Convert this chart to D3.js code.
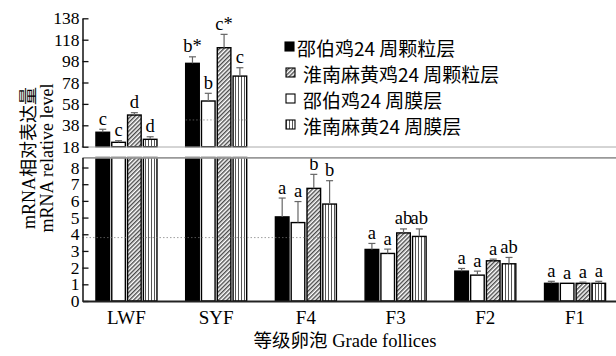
<!DOCTYPE html>
<html>
<head>
<meta charset="utf-8">
<script src="https://cdn.jsdelivr.net/npm/d3@7"></script>
<style>
  html, body { margin: 0; padding: 0; background: #fff; }
  svg { display: block; }
  .soft { opacity: 0.995; }
</style>
</head>
<body>
<svg id="chart" width="616" height="356"></svg>
<script>
// Follicle grades on the x axis
const categories = ["LWF", "SYF", "F4", "F3", "F2", "F1"];

// Series, in the order the bars sit inside each group
const seriesNames = ["邵伯鸡24 周颗粒层", "邵伯鸡24 周膜层", "淮南麻黄鸡24 周颗粒层", "淮南麻黄24 周膜层"];
const seriesFills = ["black", "white", "diag", "vert"];
// Legend lists the series in this order
const legendOrder = [0, 2, 1, 3];

// Relative mRNA level (mean) per grade
const shaoboGranulosa = [31.5, 95.9, 5.04, 3.09, 1.79, 1.06];
const shaoboTheca     = [22.1, 60.7, 4.70, 2.85, 1.55, 1.06];
const huainanGranulosa = [47.6, 110.5, 6.75, 4.08, 2.41, 1.06];
const huainanTheca    = [24.9, 84.0, 5.81, 3.87, 2.23, 1.06];

// Standard error per grade
const shaoboGranulosaErr = [2.8, 6.1, 1.13, 0.36, 0.16, 0.12];
const shaoboThecaErr     = [1.5, 7.2, 1.26, 0.26, 0.24, 0.0];
const huainanGranulosaErr = [2.2, 12.5, 0.84, 0.24, 0.10, 0.07];
const huainanThecaErr    = [2.4, 7.8, 1.40, 0.45, 0.38, 0.12];

// Significance letters
const shaoboGranulosaSig = ["c", "b*", "a", "a", "a", "a"];
const shaoboThecaSig     = ["c", "b", "a", "a", "a", "a"];
const huainanGranulosaSig = ["d", "c*", "b", "ab", "a", "a"];
const huainanThecaSig    = ["d", "c", "b", "ab", "ab", "a"];

// Broken value axis: lower part and upper part
const lowDomain = [0, 8.6];
const highDomain = [18, 138];
const lowTicks = [0, 1, 2, 3, 4, 5, 6, 7, 8];
const highTicks = [18, 38, 58, 78, 98, 118, 138];

const values = [shaoboGranulosa, shaoboTheca, huainanGranulosa, huainanTheca];
const errors = [shaoboGranulosaErr, shaoboThecaErr, huainanGranulosaErr, huainanThecaErr];
const sigs = [shaoboGranulosaSig, shaoboThecaSig, huainanGranulosaSig, huainanThecaSig];

const serif = "'Liberation Serif', 'Times New Roman', serif";
const cjk = "'Noto Sans CJK SC', 'Noto Sans', sans-serif";

const svg = d3.select("#chart");
const W = 616;

const axisX = 82.5;
const x0 = d3.scaleBand().domain(categories).range([axisX, 619]).paddingInner(0.32).paddingOuter(0.15);
const x1 = d3.scaleBand().domain(d3.range(seriesNames.length)).range([0, x0.bandwidth()]).paddingInner(0.14).paddingOuter(0);

const yLow = d3.scaleLinear().domain(lowDomain).range([301, 157.5]);
const yHigh = d3.scaleLinear().domain(highDomain).range([146.7, 18.3]);

// Fill patterns
const defs = svg.append("defs");
const pd = defs.append("pattern").attr("id", "diag").attr("patternUnits", "userSpaceOnUse")
  .attr("width", 3).attr("height", 3).attr("patternTransform", "rotate(45)");
pd.append("rect").attr("width", 3).attr("height", 3).attr("fill", "#fff");
pd.append("line").attr("x1", 0.75).attr("y1", 0).attr("x2", 0.75).attr("y2", 3)
  .attr("stroke", "#2a2a2a").attr("stroke-width", 1.2);
const pv = defs.append("pattern").attr("id", "vert").attr("patternUnits", "userSpaceOnUse")
  .attr("width", 3).attr("height", 3);
pv.append("rect").attr("width", 3).attr("height", 3).attr("fill", "#fff");
pv.append("line").attr("x1", 1.5).attr("y1", 0).attr("x2", 1.5).attr("y2", 3)
  .attr("stroke", "#444").attr("stroke-width", 0.9);

function fillOf(k) {
  const f = seriesFills[k];
  if (f === "black") return "#000";
  if (f === "white") return "#fff";
  return "url(#" + f + ")";
}

// Text that mixes Latin (serif) and Chinese (CJK font) runs
function mixedText(sel, str) {
  const runs = str.match(/[\u3400-\u9fff]+|[^\u3400-\u9fff]+/g) || [];
  runs.forEach(r => {
    sel.append("tspan")
      .attr("font-family", /[\u3400-\u9fff]/.test(r) ? cjk : serif)
      .text(r);
  });
  return sel;
}

// Flattened bar records
const bars = [];
categories.forEach((c, i) => {
  values.forEach((arr, k) => {
    bars.push({ cat: c, k: k, v: arr[i], e: errors[k][i], sig: sigs[k][i] });
  });
});

const plot = svg.append("g");

// Lower segment of every bar (clipped at the break)
plot.selectAll("rect.low").data(bars).join("rect")
  .attr("class", "low")
  .attr("x", d => x0(d.cat) + x1(d.k))
  .attr("width", x1.bandwidth())
  .attr("y", d => yLow(Math.min(d.v, lowDomain[1])))
  .attr("height", d => yLow(0) - yLow(Math.min(d.v, lowDomain[1])))
  .attr("fill", d => fillOf(d.k))
  .attr("stroke", "#000").attr("stroke-width", 1.4);

// Upper segment for bars that pass the break
const tall = bars.filter(d => d.v > highDomain[0]);
plot.selectAll("rect.high").data(tall).join("rect")
  .attr("class", "high")
  .attr("x", d => x0(d.cat) + x1(d.k))
  .attr("width", x1.bandwidth())
  .attr("y", d => yHigh(d.v))
  .attr("height", d => yHigh(highDomain[0]) - yHigh(d.v))
  .attr("fill", d => fillOf(d.k))
  .attr("stroke", "#000").attr("stroke-width", 1.4);

const yOf = v => (v > highDomain[0] ? yHigh(v) : yLow(v));

// Error bars (upper whisker only)
const eb = plot.selectAll("g.err").data(bars.filter(d => d.e > 0)).join("g").attr("class", "err");
eb.append("line")
  .attr("x1", d => x0(d.cat) + x1(d.k) + x1.bandwidth() / 2)
  .attr("x2", d => x0(d.cat) + x1(d.k) + x1.bandwidth() / 2)
  .attr("y1", d => yOf(d.v))
  .attr("y2", d => yOf(d.v + d.e))
  .attr("stroke", "#666").attr("stroke-width", 1.2);
eb.append("line")
  .attr("x1", d => x0(d.cat) + x1(d.k) + x1.bandwidth() / 2 - 3.5)
  .attr("x2", d => x0(d.cat) + x1(d.k) + x1.bandwidth() / 2 + 3.5)
  .attr("y1", d => yOf(d.v + d.e))
  .attr("y2", d => yOf(d.v + d.e))
  .attr("stroke", "#666").attr("stroke-width", 1.2);

// Significance letters
plot.selectAll("text.sig").data(bars).join("text")
  .attr("class", "sig")
  .attr("x", d => x0(d.cat) + x1(d.k) + x1.bandwidth() / 2)
  .attr("y", d => yOf(d.v + d.e) - 4.5)
  .attr("text-anchor", "middle")
  .attr("font-family", serif).attr("font-size", 18.5)
  .attr("fill", "#000")
  .text(d => d.sig);

// Faint dotted guide lines
const guideLow = 3.8, guideHigh = 43;
plot.append("line")
  .attr("x1", axisX).attr("x2", x0("F4") + x0.bandwidth())
  .attr("y1", yLow(guideLow)).attr("y2", yLow(guideLow))
  .attr("stroke", "#777").attr("stroke-width", 0.7).attr("stroke-dasharray", "1.5,2");
plot.append("line")
  .attr("x1", x0("SYF")).attr("x2", x0("SYF") + x0.bandwidth())
  .attr("y1", yHigh(guideHigh)).attr("y2", yHigh(guideHigh))
  .attr("stroke", "#777").attr("stroke-width", 0.7).attr("stroke-dasharray", "1.5,2");

// Break lines across the plot
svg.append("line")
  .attr("x1", axisX - 1).attr("x2", W)
  .attr("y1", yHigh(highDomain[0]) + 0.3).attr("y2", yHigh(highDomain[0]) + 0.3)
  .attr("stroke", "#aaa").attr("stroke-width", 1);
svg.append("line")
  .attr("x1", axisX).attr("x2", W)
  .attr("y1", yLow(lowDomain[1]) + 0.3).attr("y2", yLow(lowDomain[1]) + 0.3)
  .attr("stroke", "#999").attr("stroke-width", 1.8);

// Value axes
function styleAxis(g) {
  g.select(".domain").attr("stroke", "#111").attr("stroke-width", 1.5);
  g.selectAll(".tick line").attr("stroke", "#111").attr("stroke-width", 1.3);
  g.selectAll(".tick text").attr("font-family", serif).attr("font-size", 17.5).attr("fill", "#000");
}
svg.append("g").attr("transform", `translate(${axisX},0)`)
  .call(d3.axisLeft(yLow).tickValues(lowTicks).tickFormat(d3.format("d"))
    .tickSizeInner(-6).tickSizeOuter(0).tickPadding(3))
  .call(styleAxis);
svg.append("g").attr("transform", `translate(${axisX},0)`)
  .call(d3.axisLeft(yHigh).tickValues(highTicks).tickFormat(d3.format("d"))
    .tickSizeInner(-6).tickSizeOuter(0).tickPadding(3))
  .call(styleAxis);

// Category axis
const xa = svg.append("g").attr("transform", `translate(0,${yLow(0)})`)
  .call(d3.axisBottom(x0).tickSizeInner(0).tickSizeOuter(0).tickPadding(10));
xa.select(".domain").attr("stroke", "#222").attr("stroke-width", 2);
xa.selectAll(".tick text").attr("font-family", serif).attr("font-size", 19).attr("fill", "#000");

// Axis titles
svg.append("text")
  .attr("x", 345).attr("y", 347)
  .attr("text-anchor", "middle")
  .attr("font-size", 18.5).attr("fill", "#000")
  .call(mixedText, "等级卵泡 Grade follices");

svg.append("text")
  .attr("class", "soft")
  .attr("transform", "translate(35,158) rotate(-90)")
  .attr("text-anchor", "middle")
  .attr("font-size", 18).attr("fill", "#000")
  .call(mixedText, "mRNA相对表达量");
svg.append("text")
  .attr("class", "soft")
  .attr("transform", "translate(52.5,158) rotate(-90)")
  .attr("text-anchor", "middle")
  .attr("font-family", serif).attr("font-size", 18).attr("fill", "#000")
  .text("mRNA relative level");

// Legend
const legend = svg.append("g");
legendOrder.forEach((k, r) => {
  const cy = 49 + r * 26;
  const sx = r === 0 ? 285 : 286;
  legend.append("rect")
    .attr("x", sx).attr("y", cy - 7).attr("width", 9).attr("height", 9)
    .attr("fill", fillOf(k)).attr("stroke", "#000").attr("stroke-width", 1.1);
  legend.append("text")
    .attr("x", r === 0 ? 297 : 303).attr("y", cy + 7)
    .attr("font-family", cjk).attr("font-size", 19).attr("fill", "#000")
    .text(seriesNames[k]);
});
</script>
</body>
</html>
